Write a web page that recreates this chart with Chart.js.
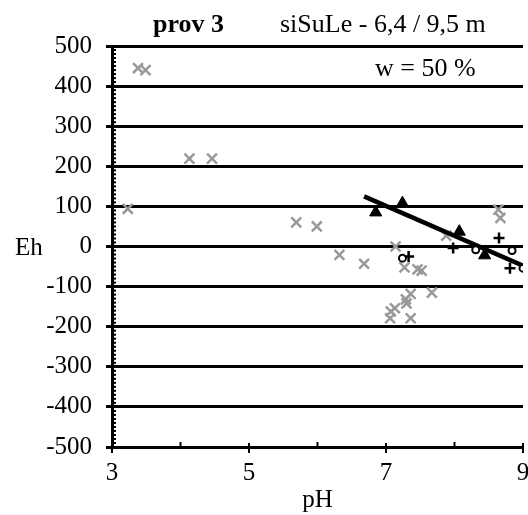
<!DOCTYPE html>
<html>
<head>
<meta charset="utf-8">
<script src="https://cdn.jsdelivr.net/npm/chart.js@4/dist/chart.umd.min.js"></script>
<style>
  html, body { margin: 0; padding: 0; background: #fff; overflow: hidden; }
  #wrap { width: 528px; height: 515px; overflow: hidden; }
</style>
</head>
<body>
<div id="wrap"><canvas id="chart" width="560" height="515"></canvas></div>
<script>
// prov 3 - siSuLe 6,4 / 9,5 m, w = 50 %
// gray crosses (all samples)
var grayPH = [3.38, 3.49, 4.13, 4.46, 3.23, 5.69, 5.99, 6.32, 6.68, 7.14, 7.27, 7.46, 7.52, 7.67, 7.36, 7.29, 7.30, 7.13, 7.07, 7.06, 7.36, 7.88, 8.64, 8.67];
var grayEh = [445, 440, 219, 219, 94, 60, 50, -21, -43, 0, -52, -57, -60, -115, -118, -132, -142, -154, -162, -179, -179, 27, 92, 71];
// black triangles
var triPH = [6.85, 7.24, 8.07, 8.44];
var triEh = [85, 108, 37, -22];
// plus signs
var plusPH = [7.33, 7.98, 8.65, 8.81];
var plusEh = [-25, -4, 21, -54];
// open circles
var circPH = [7.24, 8.31, 8.84, 9.0];
var circEh = [-29, -8, -10, -54];
// trend line
var trendPH = [6.68, 9.0];
var trendEh = [125, -48];
// ticks
var xTicks = [3, 5, 7, 9];
var xMinor = [4, 6, 8];

function pts(xs, ys) {
  return xs.map(function (x, i) { return { x: x, y: ys[i] }; });
}

Chart.defaults.font.family = "'Liberation Serif', 'Times New Roman', serif";
Chart.defaults.color = "#000";

var serif = "'Liberation Serif', 'Times New Roman', serif";

// minor ticks + free texts
var extras = {
  id: "extras",
  afterDraw: function (chart) {
    var ctx = chart.ctx, xs = chart.scales.x, ys = chart.scales.y, area = chart.chartArea;
    ctx.save();
    ctx.strokeStyle = "#000";
    ctx.lineWidth = 2;
    for (var v = -490; v < 500; v += 10) {
      if (v % 100 === 0) continue;
      var py = ys.getPixelForValue(v);
      ctx.beginPath();
      ctx.moveTo(area.left, py);
      ctx.lineTo(area.left + 4, py);
      ctx.stroke();
    }
    xMinor.forEach(function (m) {
      var px = xs.getPixelForValue(m);
      ctx.beginPath();
      ctx.moveTo(px, area.bottom);
      ctx.lineTo(px, area.bottom - 5);
      ctx.stroke();
    });
    // major x ticks cross the axis a little
    xTicks.forEach(function (m) {
      var px = xs.getPixelForValue(m);
      ctx.beginPath();
      ctx.moveTo(px, area.bottom);
      ctx.lineTo(px, area.bottom - 4);
      ctx.stroke();
    });
    ctx.fillStyle = "#000";
    ctx.textAlign = "left";
    ctx.textBaseline = "alphabetic";
    ctx.font = "bold 26px " + serif;
    ctx.fillText("prov 3", 153, 32);
    ctx.font = "26px " + serif;
    ctx.fillText("siSuLe - 6,4 / 9,5 m", 280, 32);
    ctx.fillText("w = 50 %", 375, 76);
    ctx.font = "25px " + serif;
    ctx.fillText("Eh", 15, 255);
    ctx.restore();
  }
};

new Chart(document.getElementById("chart"), {
  type: "scatter",
  data: {
    datasets: [
      {
        data: pts(grayPH, grayEh),
        pointStyle: "crossRot",
        pointRadius: 7,
        borderColor: "#999999",
        borderWidth: 2.5,
        order: 5
      },
      {
        type: "line",
        data: pts(trendPH, trendEh),
        borderColor: "#000",
        borderWidth: 4.5,
        pointRadius: 0,
        fill: false,
        order: 4
      },
      {
        data: pts(triPH, triEh),
        pointStyle: "triangle",
        pointRadius: 7,
        backgroundColor: "#000",
        borderColor: "#000",
        borderWidth: 1,
        order: 3
      },
      {
        data: pts(plusPH, plusEh),
        pointStyle: "cross",
        pointRadius: 5.5,
        borderColor: "#000",
        borderWidth: 2.5,
        order: 2
      },
      {
        data: pts(circPH, circEh),
        pointStyle: "circle",
        pointRadius: 3.5,
        backgroundColor: "#fff",
        borderColor: "#000",
        borderWidth: 2,
        order: 1
      }
    ]
  },
  options: {
    responsive: false,
    animation: false,
    layout: { padding: { left: 0, right: 37, top: 46, bottom: 0 } },
    plugins: { legend: { display: false }, tooltip: { enabled: false } },
    scales: {
      x: {
        type: "linear",
        min: 3,
        max: 9,
        afterBuildTicks: function (s) {
          s.ticks = xTicks.map(function (v) { return { value: v }; });
        },
        ticks: { font: { size: 25 }, padding: 5, maxRotation: 0 },
        grid: { drawOnChartArea: false, color: "#000", lineWidth: 2, tickLength: 6 },
        border: { color: "#000", width: 3 },
        title: { display: true, text: "pH", font: { size: 25 }, padding: 0 },
        afterFit: function (s) { s.height = 68; }
      },
      y: {
        min: -500,
        max: 500,
        ticks: { stepSize: 100, font: { size: 25 }, padding: 14 },
        grid: { color: "#000", lineWidth: 3, tickLength: 6 },
        border: { color: "#000", width: 3 },
        afterFit: function (s) { s.width = 112; }
      }
    }
  },
  plugins: [extras]
});
</script>
</body>
</html>
